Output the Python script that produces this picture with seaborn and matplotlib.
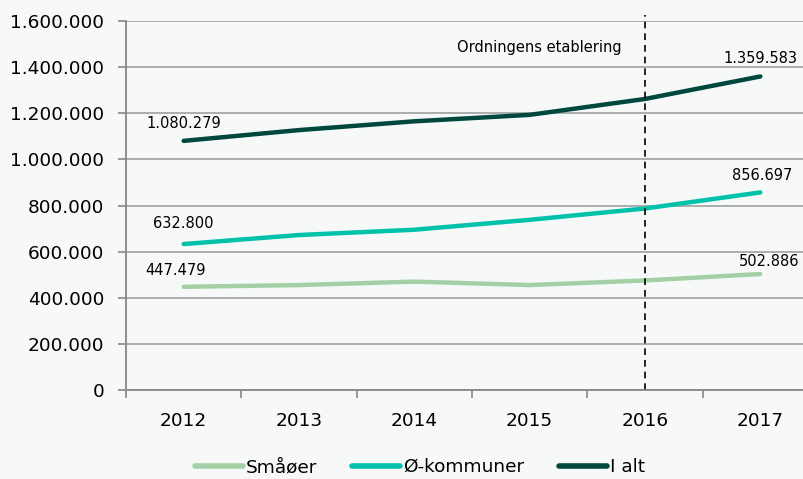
import seaborn as sns
import matplotlib.pyplot as plt
import pandas as pd
from matplotlib.ticker import FuncFormatter

# data
years = ["2012", "2013", "2014", "2015", "2016", "2017"]
smaaoer = [447479, 455000, 470000, 455000, 475000, 502886]
oe_kommuner = [632800, 672000, 695000, 738000, 787000, 856697]
i_alt = [1080279, 1127000, 1165000, 1193000, 1262000, 1359583]
series_names = ["Småøer", "Ø-kommuner", "I alt"]
colors = ["#a3d1a5", "#00c1aa", "#00483d"]

df = pd.DataFrame({
    "år": list(range(len(years))) * 3,
    "antal": smaaoer + oe_kommuner + i_alt,
    "serie": [s for s in series_names for _ in years],
})

sns.set_theme(style="white", rc={"axes.facecolor": "#f7f9f9", "figure.facecolor": "#f7f9f9",
                                 "text.color": "black", "xtick.color": "black", "ytick.color": "black"})
plt.rcParams["font.family"] = ["DejaVu Sans"]

fig = plt.figure(figsize=(8.04, 4.79), dpi=100)
ax = fig.add_axes([126 / 804, 1 - 390 / 479, 692 / 804, 369 / 479])

sns.lineplot(data=df, x="år", y="antal", hue="serie", palette=dict(zip(series_names, colors)),
             linewidth=3.2, ax=ax, legend=False)
for line in ax.lines:
    line.set_solid_capstyle("round")

ax.set_xlim(-0.5, 5.5)
ax.set_ylim(0, 1600000)
ax.set_yticks(range(0, 1600001, 200000))
ax.yaxis.set_major_formatter(FuncFormatter(lambda v, p: f"{int(v):,}".replace(",", ".")))
ax.set_xticks(range(len(years)))
ax.set_xticklabels(years)
ax.set_xticks([i - 0.5 for i in range(len(years) + 1)], minor=True)
ax.tick_params(axis="x", which="major", length=0, pad=16, labelsize=13.3, labelcolor="black")
ax.tick_params(axis="x", which="minor", length=5.5, color="#888888", width=1.2, direction="out", bottom=True)
ax.tick_params(axis="y", length=5.5, color="#888888", width=1.2, direction="out", left=True,
               labelsize=13.3, pad=10, labelcolor="black")
ax.grid(axis="y", color="#a6a6a6", linewidth=1.3)
ax.set_axisbelow(True)
for side in ["top", "right"]:
    ax.spines[side].set_visible(False)
for side in ["left", "bottom"]:
    ax.spines[side].set_color("#888888")
    ax.spines[side].set_linewidth(1.3)
ax.set_xlabel("")
ax.set_ylabel("")

# vertical marker for 2016
ax.axvline(4, ymin=0, ymax=1.017, color="black", linestyle=(0, (4, 3)), linewidth=1.2, clip_on=False)
ax.text(3.8, 1487000, "Ordningens etablering", ha="right", va="center", fontsize=10.5)

def fmt(v):
    return f"{v:,}".replace(",", ".")

labels = [(smaaoer, (-6, 11.5)), (oe_kommuner, (0, 14.5)), (i_alt, (0, 12.5))]
for vals, off in labels:
    ax.annotate(fmt(vals[0]), (0, vals[0]), xytext=off, textcoords="offset points",
                ha="center", va="center", fontsize=10.5)
end_offs = [(6.5, 9), (1.5, 12.5), (0, 13)]
for (vals, _), off in zip(labels, end_offs):
    ax.annotate(fmt(vals[-1]), (5, vals[-1]), xytext=off, textcoords="offset points",
                ha="center", va="center", fontsize=10.5)

handles = [plt.Line2D([], [], color=c, linewidth=4, solid_capstyle="round") for c in colors]
fig.legend(handles, series_names, loc="center", bbox_to_anchor=(420 / 804, 1 - 467 / 479), ncol=3,
           frameon=False, fontsize=13.3, handlelength=2.6, handletextpad=0.15, columnspacing=1.9)

fig.savefig("out.png", dpi=100, facecolor=fig.get_facecolor())
